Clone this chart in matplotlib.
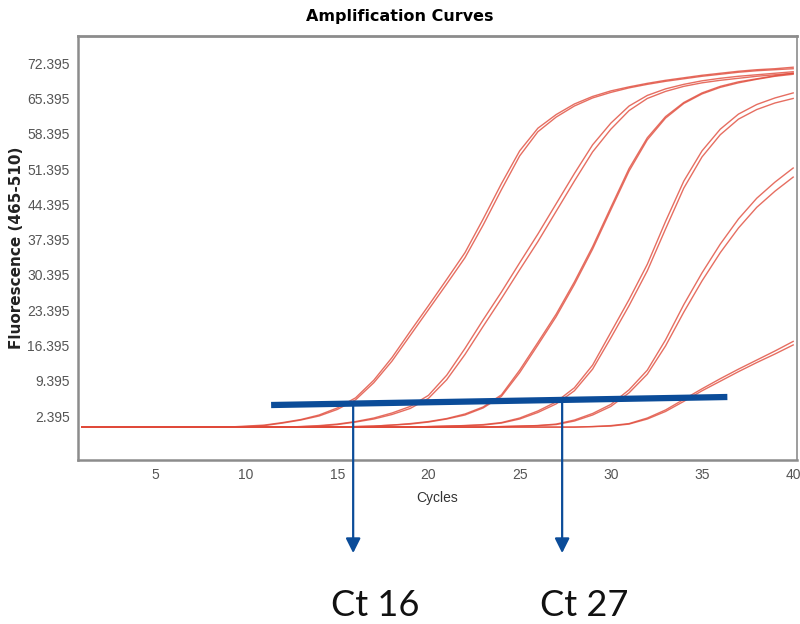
import matplotlib
matplotlib.use("Agg")
import matplotlib.pyplot as plt

# ---------------- data ----------------
cycles = list(range(1, 41))

curve_1a = [0.2, 0.2, 0.2, 0.2, 0.2, 0.2, 0.2, 0.2, 0.2, 0.4,
            0.6, 1.1, 1.7, 2.6, 4.0, 6.0, 9.5, 14.0, 19.2, 24.3,
            29.5, 34.8, 41.5, 48.5, 55.0, 59.5, 62.2, 64.3, 65.8, 66.9,
            67.7, 68.4, 69.0, 69.5, 70.0, 70.4, 70.8, 71.1, 71.3, 71.6]
curve_1b = [0.2, 0.2, 0.2, 0.2, 0.2, 0.2, 0.2, 0.2, 0.2, 0.3,
            0.5, 1.0, 1.6, 2.4, 3.7, 5.6, 9.0, 13.3, 18.4, 23.5,
            28.6, 33.8, 40.3, 47.3, 54.0, 58.8, 61.7, 63.9, 65.5, 66.6,
            67.5, 68.2, 68.8, 69.3, 69.8, 70.2, 70.6, 70.9, 71.1, 71.3]
curve_2a = [0.2, 0.2, 0.2, 0.2, 0.2, 0.2, 0.2, 0.2, 0.2, 0.2,
            0.2, 0.2, 0.3, 0.5, 0.8, 1.3, 2.0, 3.0, 4.3, 6.5,
            10.5, 15.8, 21.5, 27.0, 32.8, 38.5, 44.5, 50.5, 56.2, 60.5,
            63.9, 66.0, 67.3, 68.2, 68.9, 69.4, 69.8, 70.1, 70.4, 70.7]
curve_2b = [0.2, 0.2, 0.2, 0.2, 0.2, 0.2, 0.2, 0.2, 0.2, 0.2,
            0.2, 0.2, 0.3, 0.4, 0.7, 1.2, 1.8, 2.7, 3.9, 5.9,
            9.6, 14.6, 20.2, 25.7, 31.4, 37.0, 43.0, 49.0, 54.8, 59.3,
            63.0, 65.4, 66.8, 67.8, 68.5, 69.0, 69.4, 69.8, 70.1, 70.4]
curve_3a = [0.2, 0.2, 0.2, 0.2, 0.2, 0.2, 0.2, 0.2, 0.2, 0.2,
            0.2, 0.2, 0.2, 0.2, 0.2, 0.3, 0.4, 0.6, 0.9, 1.3,
            1.9, 2.8, 4.2, 6.6, 11.5, 17.0, 22.6, 29.0, 36.0, 43.8,
            51.5, 57.6, 61.8, 64.6, 66.5, 67.8, 68.7, 69.3, 69.9, 70.4]
curve_3b = [0.2, 0.2, 0.2, 0.2, 0.2, 0.2, 0.2, 0.2, 0.2, 0.2,
            0.2, 0.2, 0.2, 0.2, 0.2, 0.3, 0.4, 0.6, 0.8, 1.2,
            1.8, 2.6, 4.0, 6.3, 11.0, 16.5, 22.1, 28.5, 35.5, 43.3,
            51.0, 57.2, 61.5, 64.4, 66.3, 67.6, 68.5, 69.2, 69.8, 70.2]
curve_4a = [0.2, 0.2, 0.2, 0.2, 0.2, 0.2, 0.2, 0.2, 0.2, 0.2,
            0.2, 0.2, 0.2, 0.2, 0.2, 0.2, 0.2, 0.2, 0.2, 0.3,
            0.4, 0.5, 0.7, 1.1, 2.0, 3.4, 5.2, 8.0, 12.5, 19.0,
            25.5, 32.5, 41.0, 49.0, 55.0, 59.3, 62.3, 64.2, 65.5, 66.5]
curve_4b = [0.2, 0.2, 0.2, 0.2, 0.2, 0.2, 0.2, 0.2, 0.2, 0.2,
            0.2, 0.2, 0.2, 0.2, 0.2, 0.2, 0.2, 0.2, 0.2, 0.3,
            0.4, 0.5, 0.6, 1.0, 1.8, 3.1, 4.8, 7.4, 11.7, 17.9,
            24.3, 31.2, 39.5, 47.6, 53.8, 58.2, 61.3, 63.2, 64.5, 65.4]
curve_5a = [0.2, 0.2, 0.2, 0.2, 0.2, 0.2, 0.2, 0.2, 0.2, 0.2,
            0.2, 0.2, 0.2, 0.2, 0.2, 0.2, 0.2, 0.2, 0.2, 0.2,
            0.2, 0.2, 0.2, 0.3, 0.4, 0.5, 0.8, 1.6, 2.9, 4.7,
            7.6, 11.5, 17.5, 24.5, 30.8, 36.5, 41.5, 45.6, 48.8, 51.6]
curve_5b = [0.2, 0.2, 0.2, 0.2, 0.2, 0.2, 0.2, 0.2, 0.2, 0.2,
            0.2, 0.2, 0.2, 0.2, 0.2, 0.2, 0.2, 0.2, 0.2, 0.2,
            0.2, 0.2, 0.2, 0.3, 0.4, 0.5, 0.7, 1.4, 2.6, 4.3,
            7.0, 10.7, 16.3, 23.0, 29.2, 34.8, 39.7, 43.8, 47.0, 49.8]
curve_6a = [0.2, 0.2, 0.2, 0.2, 0.2, 0.2, 0.2, 0.2, 0.2, 0.2,
            0.2, 0.2, 0.2, 0.2, 0.2, 0.2, 0.2, 0.2, 0.2, 0.2,
            0.2, 0.2, 0.2, 0.2, 0.2, 0.2, 0.2, 0.2, 0.3, 0.5,
            0.9, 2.0, 3.6, 5.7, 7.8, 9.8, 11.7, 13.5, 15.3, 17.2]
curve_6b = [0.2, 0.2, 0.2, 0.2, 0.2, 0.2, 0.2, 0.2, 0.2, 0.2,
            0.2, 0.2, 0.2, 0.2, 0.2, 0.2, 0.2, 0.2, 0.2, 0.2,
            0.2, 0.2, 0.2, 0.2, 0.2, 0.2, 0.2, 0.2, 0.3, 0.4,
            0.8, 1.8, 3.3, 5.3, 7.4, 9.3, 11.2, 13.0, 14.7, 16.5]

curves = [curve_1a, curve_1b, curve_2a, curve_2b, curve_3a, curve_3b,
          curve_4a, curve_4b, curve_5a, curve_5b, curve_6a, curve_6b]

y_ticks = [2.395, 9.395, 16.395, 23.395, 30.395, 37.395,
           44.395, 51.395, 58.395, 65.395, 72.395]
x_ticks = [5, 10, 15, 20, 25, 30, 35, 40]

threshold_x = [11.37, 36.39]
threshold_y = [4.58, 6.17]

ct_x = [15.87, 27.33]
ct_labels = ["Ct 16", "Ct 27"]

# ---------------- figure ----------------
fig = plt.figure(figsize=(8.0, 6.24), dpi=100)
ax = fig.add_axes([0.0975, 0.2628, 0.899, 0.6795])

red = "#e04a3a"
for c in curves:
    ax.plot(cycles, c, color=red, lw=1.0, alpha=0.8, zorder=2)

ax.set_xlim(0.78, 40.22)
ax.set_ylim(-6.33, 77.79)

ax.set_xticks(x_ticks)
ax.set_yticks(y_ticks)
ax.set_yticklabels([f"{v:.3f}" for v in y_ticks])
ax.tick_params(axis="both", length=0, labelsize=10, labelcolor="#555555",
               pad=6)
for lab in ax.get_xticklabels() + ax.get_yticklabels():
    lab.set_family("Liberation Sans")

for s in ax.spines.values():
    s.set_color("#8c8c8c")
    s.set_linewidth(1.2)
ax.spines["top"].set_linewidth(2.0)
ax.spines["left"].set_linewidth(1.8)
ax.spines["bottom"].set_linewidth(1.8)

ax.set_xlabel("Cycles", fontsize=10, color="#333333",
              family="Liberation Sans", labelpad=6)
ax.set_ylabel("Fluorescence (465-510)", fontsize=11, fontweight="bold",
              color="#222222", family="DejaVu Sans", labelpad=2)
fig.suptitle("Amplification Curves", fontsize=11.5, fontweight="bold",
             family="DejaVu Sans", x=0.5, y=0.973, va="center")

blue = "#0b4c99"
ax.plot(threshold_x, threshold_y, color=blue, lw=4.5, zorder=4,
        solid_capstyle="butt")

slope = (threshold_y[1] - threshold_y[0]) / (threshold_x[1] - threshold_x[0])
for cx, lab in zip(ct_x, ct_labels):
    y0 = threshold_y[0] + slope * (cx - threshold_x[0])
    ax.annotate("", xy=(cx, -24.8), xytext=(cx, y0),
                arrowprops=dict(arrowstyle="-|>", color=blue, lw=1.6,
                                mutation_scale=22, shrinkA=0, shrinkB=0),
                annotation_clip=False, zorder=5)
    ax.text(cx + 1.2, -35.1, lab, fontsize=26, family="Lato",
            ha="center", va="center", color="#111111", clip_on=False)

fig.savefig("out.png", dpi=100)
